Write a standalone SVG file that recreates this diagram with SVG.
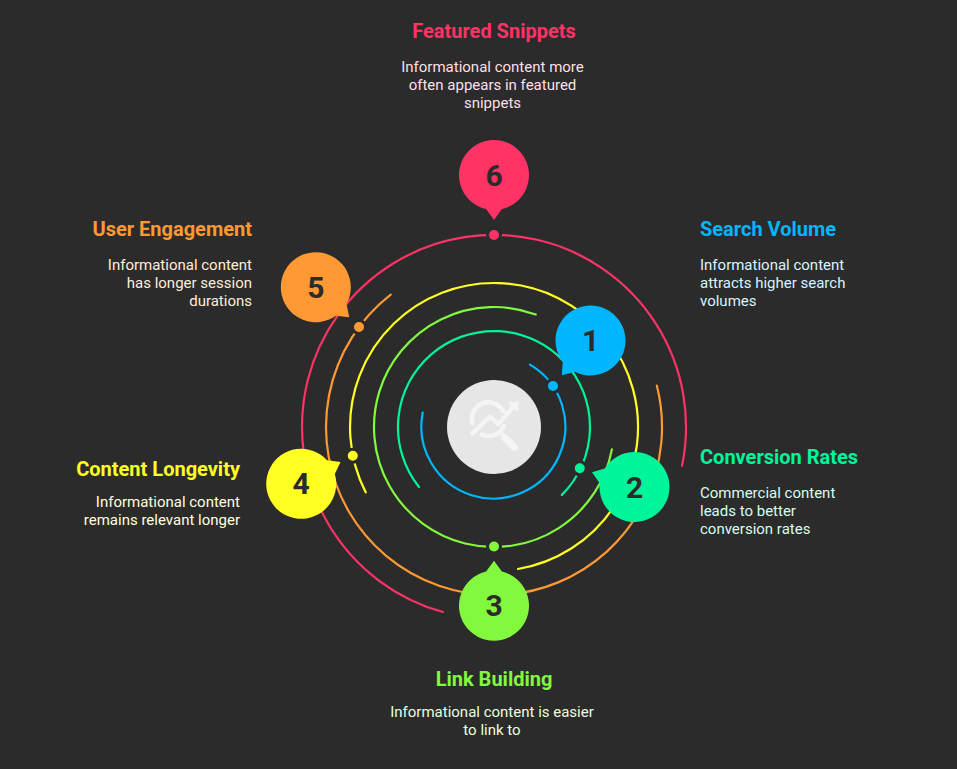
<svg xmlns="http://www.w3.org/2000/svg" width="957" height="769" viewBox="0 0 957 769">
<style>
text{font-family:Roboto,"Liberation Sans",sans-serif}
.a{fill:none;stroke-width:2.2;stroke-linecap:round}
.d{stroke:#2b2b2b;stroke-width:3}
.t{font-size:20px;font-weight:700}
.b{font-size:15px}
.n{font-size:30px;font-weight:700;fill:#2b2b2b;text-anchor:middle}
.m{text-anchor:middle}.e{text-anchor:end}
.i{fill:none;stroke:#f5f5f5;stroke-width:4.500;stroke-linecap:round;stroke-linejoin:round}
</style>
<defs><path id="bub" d="M34.100 -7.900L45 0L34.100 7.900A35 35 0 1 1 34.100 -7.900Z"/></defs>
<rect width="957" height="769" fill="#2b2b2b"/>
<g id="connectors">
<path class="a" stroke="#00b7ff" d="M530 364.600A72 72 0 1 1 422.700 412.700"/>
<path class="a" stroke="#00f59b" d="M561.900 494.900A96 96 0 1 0 419 487"/>
<path class="a" stroke="#82f93e" d="M611.900 449.400A120 120 0 1 1 535.700 314.500"/>
<path class="a" stroke="#ffff24" d="M518 569A144 144 0 1 0 365.700 492.300"/>
<path class="a" stroke="#ff9933" d="M656.800 385.500A168 168 0 1 1 390.700 294.600"/>
<path class="a" stroke="#ff3366" d="M682 466A192 192 0 1 0 443 612"/>
<circle class="d" cx="553" cy="386" r="6.500" fill="#00b7ff"/>
<circle class="d" cx="579.800" cy="468.300" r="6.500" fill="#00f59b"/>
<circle class="d" cx="494" cy="546.500" r="6.500" fill="#82f93e"/>
<circle class="d" cx="352.800" cy="455.800" r="6.500" fill="#ffff24"/>
<circle class="d" cx="359" cy="327" r="6.500" fill="#ff9933"/>
<circle class="d" cx="494" cy="235" r="6.500" fill="#ff3366"/>
</g>
<g id="center">
<circle cx="494" cy="427" r="47" fill="#e6e6e6"/>
<path class="i" d="M472.500 423A16.500 16.500 0 0 1 503 411M482 434.500A16.500 16.500 0 0 0 504 426M472.300 433.300L490 416.700L498.300 424.300L513 407"/>
<path fill="#f5f5f5" d="M507.500 402.500L518.500 401.500L518 412.500Z"/>
<path class="i" d="M500 432L504 436.500"/>
<path class="i" style="stroke-width:7" d="M505 438L514.500 447.500"/>
</g>
<g id="node1">
<use href="#bub" transform="translate(590.500 340.500) rotate(129.500)" fill="#00b7ff"/>
<text class="n" x="590.500" y="351">1</text>
<text class="t" x="700" y="236" fill="#00b7ff">Search Volume</text>
<text class="b" x="700" y="270" fill="#d6f3ff">Informational content</text>
<text class="b" x="700" y="288" fill="#d6f3ff">attracts higher search</text>
<text class="b" x="700" y="306" fill="#d6f3ff">volumes</text>
</g>
<g id="node2">
<use href="#bub" transform="translate(634.500 487) rotate(199.100)" fill="#00f59b"/>
<text class="n" x="634.500" y="497.500">2</text>
<text class="t" x="700" y="464" fill="#00f59b">Conversion Rates</text>
<text class="b" x="700" y="498" fill="#d6fdee">Commercial content</text>
<text class="b" x="700" y="516" fill="#d6fdee">leads to better</text>
<text class="b" x="700" y="534" fill="#d6fdee">conversion rates</text>
</g>
<g id="node3">
<use href="#bub" transform="translate(494 605.700) rotate(-90)" fill="#82f93e"/>
<text class="n" x="494" y="616">3</text>
<text class="t m" x="494" y="686" fill="#82f93e">Link Building</text>
<text class="b m" x="492" y="717" fill="#eafedf">Informational content is easier</text>
<text class="b m" x="492" y="735" fill="#eafedf">to link to</text>
</g>
<g id="node4">
<use href="#bub" transform="translate(301.200 483.800) rotate(-29.100)" fill="#ffff24"/>
<text class="n" x="301.200" y="494">4</text>
<text class="t e" x="240" y="476" fill="#ffff24">Content Longevity</text>
<text class="b e" x="240" y="507" fill="#ffffdb">Informational content</text>
<text class="b e" x="240" y="525" fill="#ffffdb">remains relevant longer</text>
</g>
<g id="node5">
<use href="#bub" transform="translate(315.800 287.200) rotate(41.900)" fill="#ff9933"/>
<text class="n" x="315.800" y="297.500">5</text>
<text class="t e" x="252" y="236" fill="#ff9933">User Engagement</text>
<text class="b e" x="252" y="270" fill="#ffecd9">Informational content</text>
<text class="b e" x="252" y="288" fill="#ffecd9">has longer session</text>
<text class="b e" x="252" y="306" fill="#ffecd9">durations</text>
</g>
<g id="node6">
<use href="#bub" transform="translate(494 175) rotate(90)" fill="#ff3366"/>
<text class="n" x="494" y="185.500">6</text>
<text class="t m" x="494" y="38" fill="#ff3366">Featured Snippets</text>
<text class="b m" x="492.500" y="72" fill="#ffdfe6">Informational content more</text>
<text class="b m" x="492.500" y="90" fill="#ffdfe6">often appears in featured</text>
<text class="b m" x="492.500" y="108" fill="#ffdfe6">snippets</text>
</g>
</svg>
